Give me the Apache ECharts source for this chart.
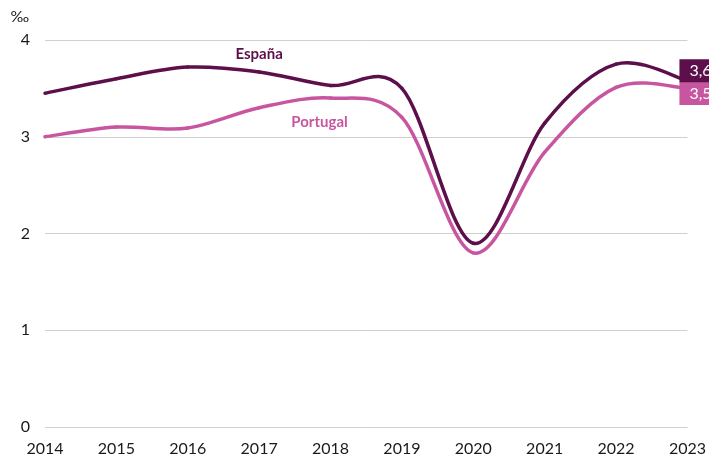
<!DOCTYPE html>
<html>
<head>
<meta charset="utf-8">
<script src="https://cdn.jsdelivr.net/npm/echarts@6/dist/echarts.min.js"></script>
<style>
  html, body { margin: 0; padding: 0; background: #fff; }
  #chart { width: 709px; height: 460px; }
</style>
</head>
<body>
<div id="chart"></div>
<script>
// 年份（横轴）
const years = ['2014', '2015', '2016', '2017', '2018', '2019', '2020', '2021', '2022', '2023'];
// 各国数值（‰）
const espana = [3.45, 3.60, 3.72, 3.67, 3.53, 3.50, 1.90, 3.14, 3.75, 3.58];
const portugal = [3.00, 3.10, 3.09, 3.30, 3.40, 3.20, 1.80, 2.84, 3.51, 3.50];
// 系列名与标注位置（数据下标）
const names = ['España', 'Portugal'];
const nameIndex = [3, 4];

const colors = ['#5c0f4a', '#c8559f'];
const font = 'Lato, "Open Sans", sans-serif';

// 平滑曲线（Catmull-Rom，按像素坐标），每个数据点绘制到下一个点的一段
function curveSeries(name, values, color, z) {
  const last = values.length - 1;
  return {
    type: 'custom',
    name: name,
    z: z,
    silent: true,
    data: values.map((v, i) => [i, v]),
    encode: { x: 0, y: 1 },
    renderItem: (params, api) => {
      const i = params.dataIndex;
      if (i >= last) return { type: 'group', children: [] };
      const pt = k => {
        const j = Math.max(0, Math.min(last, k));
        return api.coord([j, values[j]]);
      };
      const p0 = pt(i - 1), p1 = pt(i), p2 = pt(i + 1), p3 = pt(i + 2);
      return {
        type: 'bezierCurve',
        shape: {
          x1: p1[0], y1: p1[1],
          cpx1: p1[0] + (p2[0] - p0[0]) / 6, cpy1: p1[1] + (p2[1] - p0[1]) / 6,
          cpx2: p2[0] - (p3[0] - p1[0]) / 6, cpy2: p2[1] - (p3[1] - p1[1]) / 6,
          x2: p2[0], y2: p2[1]
        },
        style: { stroke: color, lineWidth: 3.5, fill: null, lineCap: 'round' }
      };
    }
  };
}

// 在指定点上显示系列名称
function withNameLabel(values, idx, name, labelOpt) {
  return values.map((v, i) => {
    if (i !== idx) return v;
    return {
      value: v,
      label: Object.assign({
        show: true,
        formatter: name,
        fontFamily: font,
        fontWeight: 'bold',
        fontSize: 15
      }, labelOpt)
    };
  });
}

function endLabel(color, offsetY) {
  return {
    show: true,
    formatter: p => p.value.toFixed(1).replace('.', ','),
    color: '#fff',
    backgroundColor: color,
    fontFamily: font,
    fontSize: 16,
    lineHeight: 19,
    padding: [2, 12, 2, 10],
    distance: 0,
    offset: [-8, offsetY]
  };
}

// 只用于标签的折线（线本身不可见）
function labelSeries(name, values, color, idx, labelOpt, endOffsetY, z) {
  return {
    name: name,
    type: 'line',
    silent: true,
    symbol: 'circle',
    symbolSize: 1,
    showSymbol: true,
    lineStyle: { opacity: 0, width: 0 },
    itemStyle: { color: 'transparent' },
    data: withNameLabel(values, idx, name, Object.assign({ color: color }, labelOpt)),
    endLabel: endLabel(color, endOffsetY),
    z: z
  };
}

const chart = echarts.init(document.getElementById('chart'), null, { renderer: 'canvas' });

chart.setOption({
  animation: false,
  grid: { left: 45, right: 21, top: 40, bottom: 33, containLabel: false },
  xAxis: {
    type: 'category',
    data: years,
    boundaryGap: false,
    axisLine: { show: false },
    axisTick: { show: false },
    axisLabel: { color: '#1a1a1a', fontFamily: font, fontSize: 16, margin: 14 }
  },
  yAxis: {
    type: 'value',
    min: 0,
    max: 4,
    interval: 1,
    name: '‰',
    nameLocation: 'end',
    nameGap: 15,
    nameTextStyle: { color: '#1a1a1a', fontFamily: font, fontSize: 16, align: 'right', padding: [0, 16, 0, 0] },
    axisLine: { show: false },
    axisTick: { show: false },
    axisLabel: { color: '#1a1a1a', fontFamily: font, fontSize: 16, margin: 15 },
    splitLine: { lineStyle: { color: '#d0d0d0', width: 1 } }
  },
  series: [
    curveSeries(names[1], portugal, colors[1], 2),
    curveSeries(names[0], espana, colors[0], 3),
    labelSeries(names[1], portugal, colors[1], nameIndex[1],
      { position: 'bottom', distance: 16, offset: [-11, 0] }, 5, 4),
    labelSeries(names[0], espana, colors[0], nameIndex[0],
      { position: 'top', distance: 10 }, -10, 5)
  ]
});
</script>
</body>
</html>
